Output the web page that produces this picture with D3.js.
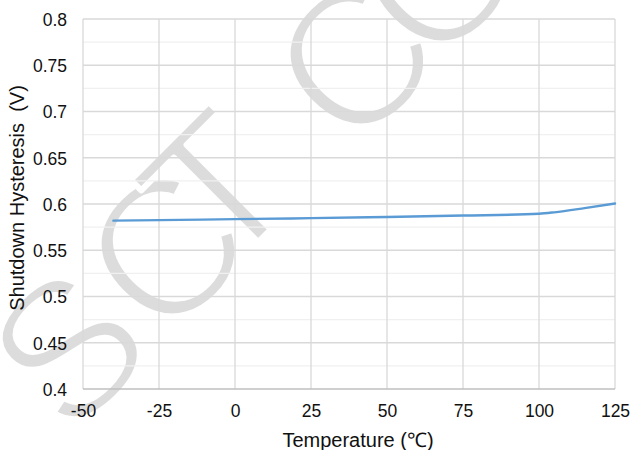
<!DOCTYPE html>
<html>
<head>
<meta charset="utf-8">
<script src="https://cdn.jsdelivr.net/npm/d3@7/dist/d3.min.js"></script>
<style>
  html, body { margin: 0; padding: 0; background: #fff; }
  svg { display: block; }
</style>
</head>
<body>
<svg id="chart" width="631" height="450"></svg>
<script>
// ---- data ----
const temperatures = [-40, -25, 0, 25, 50, 75, 100, 105, 115, 125];
const hysteresis   = [0.582, 0.5826, 0.5836, 0.5847, 0.5860, 0.5875, 0.5895, 0.5910, 0.5955, 0.6005];
const xTicks = [-50, -25, 0, 25, 50, 75, 100, 125];
const xTickLabels = ["-50", "-25", "0", "25", "50", "75", "100", "125"];
const yTicks = [0.4, 0.45, 0.5, 0.55, 0.6, 0.65, 0.7, 0.75, 0.8];
const yTickLabels = ["0.4", "0.45", "0.5", "0.55", "0.6", "0.65", "0.7", "0.75", "0.8"];
const yMinorTicks = [0.425, 0.475, 0.525, 0.575, 0.625, 0.675, 0.725, 0.775];
const xTitle = "Temperature (\u2103)";
const yTitle = "Shutdown Hysteresis \u00a0(V)";
const watermarkLetters = ["S", "C", "T", "C", "O"];

// ---- layout ----
const W = 631, H = 450;
const margin = { top: 19, right: 16, bottom: 61, left: 83 };
const svg = d3.select("#chart");
const font = "'Liberation Sans', Arial, sans-serif";

const x = d3.scaleLinear().domain([-50, 125]).range([margin.left, W - margin.right]);
const y = d3.scaleLinear().domain([0.4, 0.8]).range([H - margin.bottom, margin.top]);

// ---- watermark (decoration) ----
const wmPos = [[66, 346], [163, 248], [215, 186], [352, 58], [437, -29]];
const wmSize = 195;
const wm = svg.append("g").attr("class", "watermark");
watermarkLetters.forEach((ch, i) => {
  wm.append("text")
    .attr("transform", `translate(${wmPos[i][0]},${wmPos[i][1]}) rotate(-45)`)
    .attr("text-anchor", "middle")
    .attr("y", wmSize * 0.36)
    .attr("font-family", font)
    .attr("font-size", wmSize)
    .attr("fill", "#dcdcdc")
    .attr("stroke", "#ffffff")
    .attr("stroke-width", 6)
    .attr("stroke-linejoin", "round")
    .text(ch);
});

// ---- gridlines ----
const grid = svg.append("g");
grid.selectAll("line.minor").data(yMinorTicks).join("line")
  .attr("class", "minor")
  .attr("x1", x(-50)).attr("x2", x(125))
  .attr("y1", d => y(d)).attr("y2", d => y(d))
  .attr("stroke", "#f0f0f0").attr("stroke-width", 1.3);
grid.selectAll("line.hmajor").data(yTicks.filter(d => d > 0.4)).join("line")
  .attr("class", "hmajor")
  .attr("x1", x(-50)).attr("x2", x(125))
  .attr("y1", d => y(d)).attr("y2", d => y(d))
  .attr("stroke", "#d9d9d9").attr("stroke-width", 1.3);
grid.selectAll("line.v").data(xTicks).join("line")
  .attr("class", "v")
  .attr("x1", d => x(d)).attr("x2", d => x(d))
  .attr("y1", y(0.4)).attr("y2", y(0.8))
  .attr("stroke", "#d9d9d9").attr("stroke-width", 1.3);

// bottom axis line
svg.append("line")
  .attr("x1", x(-50)).attr("x2", x(125))
  .attr("y1", y(0.4)).attr("y2", y(0.4))
  .attr("stroke", "#bfbfbf").attr("stroke-width", 1.6);

// ---- axes labels via d3 axes ----
const xAxis = d3.axisBottom(x).tickValues(xTicks).tickSize(0).tickPadding(0)
  .tickFormat((d, i) => xTickLabels[i]);
const gx = svg.append("g").attr("transform", `translate(0,${y(0.4)})`).call(xAxis);
gx.select(".domain").remove();
gx.selectAll("text")
  .attr("font-family", font).attr("font-size", 17.5).attr("fill", "#111")
  .attr("y", 28).attr("dy", 0);

const yAxis = d3.axisLeft(y).tickValues(yTicks).tickSize(0).tickPadding(16)
  .tickFormat((d, i) => yTickLabels[i]);
const gy = svg.append("g").attr("transform", `translate(${x(-50)},0)`).call(yAxis);
gy.select(".domain").remove();
gy.selectAll("text")
  .attr("font-family", font).attr("font-size", 17.5).attr("fill", "#111")
  .attr("dy", "0.36em");

// ---- titles ----
svg.append("text")
  .attr("x", 358).attr("y", 447)
  .attr("text-anchor", "middle")
  .attr("font-family", font).attr("font-size", 20).attr("fill", "#111")
  .text(xTitle);
svg.append("text")
  .attr("transform", `translate(24,198) rotate(-90)`)
  .attr("text-anchor", "middle")
  .attr("font-family", font).attr("font-size", 20).attr("fill", "#111")
  .text(yTitle);

// ---- series ----
const data = temperatures.map((t, i) => ({ t, v: hysteresis[i] }));
const line = d3.line().x(d => x(d.t)).y(d => y(d.v)).curve(d3.curveMonotoneX);
svg.append("path")
  .datum(data)
  .attr("d", line)
  .attr("fill", "none")
  .attr("stroke", "#5b9bd5")
  .attr("stroke-width", 2.4)
  .attr("stroke-linecap", "round");
</script>
</body>
</html>
